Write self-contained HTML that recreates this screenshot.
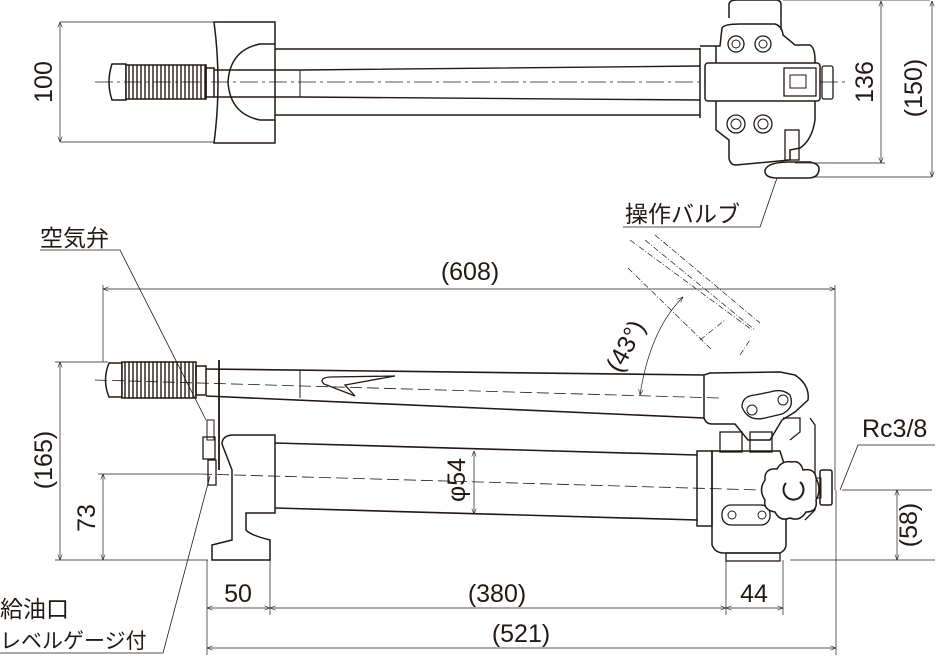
<!DOCTYPE html>
<html><head><meta charset="utf-8"><style>
html,body{margin:0;padding:0;background:#fff;}
svg{display:block;}
text{font-family:"Liberation Sans","Noto Sans CJK JP",sans-serif;fill:#231815;}
</style></head><body>
<svg width="939" height="658" viewBox="0 0 939 658" xmlns="http://www.w3.org/2000/svg">
<defs>
<marker id="a" viewBox="0 0 10 10" refX="10" refY="5" markerWidth="8" markerHeight="8" orient="auto-start-reverse"><path d="M0,1 L10,5 L0,9" fill="none" stroke="#231815" stroke-width="1"/></marker>
<pattern id="rib" width="4" height="10" patternUnits="userSpaceOnUse"><rect width="4" height="10" fill="#fff"/><line x1="1" y1="0" x2="1" y2="10" stroke="#231815" stroke-width="1.4"/></pattern>
</defs>
<g stroke="#231815" fill="none" stroke-width="1">
<!-- ===== TOP VIEW ===== -->
<!-- 100 dim -->
<line x1="60" y1="22" x2="214" y2="22" stroke-width="0.7"/>
<line x1="60" y1="142" x2="214" y2="142" stroke-width="0.7"/>
<line x1="60" y1="22" x2="60" y2="142" stroke-width="0.7" marker-start="url(#a)" marker-end="url(#a)"/>
<!-- grip -->
<path d="M112,64 Q106,82 112,100 L126,100 L126,64 Z" stroke-width="1.5"/>
<rect x="126" y="65" width="80" height="34" fill="url(#rib)" stroke-width="1.5"/>
<rect x="206" y="68" width="8" height="29" stroke-width="1.5"/>
<!-- fixed block -->
<path d="M214,22 L275,22 L275,143 L214,143 Q222,82 214,22 Z" stroke-width="1.5"/>
<path d="M275,44 L260,44 Q230,50 228,82 Q230,114 260,120 L275,120" stroke-width="1.5"/>
<!-- rails -->
<line x1="275" y1="49" x2="700" y2="49" stroke-width="1.6"/>
<line x1="275" y1="115" x2="700" y2="115" stroke-width="1.6"/>
<path d="M214,70 L300,70 L700,66 M214,97 L300,97 L700,100" stroke-width="1.4"/>
<line x1="300" y1="70" x2="300" y2="97"/>
<line x1="95" y1="82" x2="845" y2="82" stroke-dasharray="18,4,3,4" stroke-width="0.8"/>
<!-- right block -->
<path d="M729,18 L729,4 Q730,0 736,0 L776,0 Q781,0 781,5 L781,30" stroke-width="1.5"/>
<path d="M700,48 L700,118 M700,46 L720,46 L722,28 Q724,24 740,24 L775,24 Q782,26 783,35 L795,45 L810,45 Q815,48 815,60 L815,120 Q812,140 800,148 L790,150 L790,160 L736,165 Q730,165 729,158 L729,140 L716,130 L716,46" stroke-width="1.5"/>
<circle cx="736" cy="44" r="8" stroke-width="1.3"/><circle cx="736" cy="44" r="4"/>
<circle cx="763" cy="44" r="8" stroke-width="1.3"/><circle cx="763" cy="44" r="4"/>
<circle cx="736" cy="124" r="9" stroke-width="1.3"/><circle cx="736" cy="124" r="5"/>
<circle cx="763" cy="124" r="9" stroke-width="1.3"/><circle cx="763" cy="124" r="5"/>
<rect x="705" y="63" width="115" height="38" rx="3" fill="#fff" stroke-width="1.5"/>
<rect x="784" y="68" width="32" height="28" fill="#fff" stroke-width="1.3"/>
<rect x="790" y="75" width="16" height="13"/>
<rect x="822" y="66" width="11" height="33" rx="2" stroke-width="1.3"/>
<rect x="785" y="130" width="14" height="30" stroke-width="1.3"/>
<path d="M765,170 Q768,162 790,162 L810,162 Q820,164 819,170 Q818,178 808,178 L775,178 Q764,177 765,170 Z" stroke-width="1.5"/>
<!-- 136 / 150 dims -->
<line x1="783" y1="0" x2="930" y2="0" stroke-width="0.7"/>
<line x1="795" y1="163" x2="885" y2="163" stroke-width="0.7"/>
<line x1="815" y1="177" x2="932" y2="177" stroke-width="0.7"/>
<line x1="881" y1="1" x2="881" y2="163" stroke-width="0.7" marker-start="url(#a)" marker-end="url(#a)"/>
<line x1="932" y1="1" x2="932" y2="177" stroke-width="0.7" marker-start="url(#a)" marker-end="url(#a)"/>
<!-- 操作バルブ leader -->
<path d="M623,227 L760,227 L777,178" stroke-width="0.8"/>

<!-- ===== SIDE VIEW ===== -->
<!-- 608 dim -->
<line x1="103" y1="289" x2="835" y2="289" stroke-width="0.7" marker-start="url(#a)" marker-end="url(#a)"/>
<line x1="103" y1="285" x2="103" y2="362" stroke-width="0.7"/>
<line x1="835" y1="285" x2="835" y2="490" stroke-width="0.7"/>
<!-- ghost lever -->
<g stroke-dasharray="6,2,1,2" stroke-width="0.7">
<line x1="630" y1="240" x2="752" y2="330"/><line x1="645" y1="240" x2="755" y2="330"/>
<line x1="655" y1="235" x2="760" y2="323"/><line x1="628" y1="268" x2="712" y2="350"/>
<line x1="700" y1="340" x2="725" y2="320"/><line x1="740" y1="355" x2="750" y2="340"/>
</g>
<path d="M640,395 Q650,330 683,297" stroke-width="0.7" marker-start="url(#a)" marker-end="url(#a)"/>
<!-- 165 dim -->
<line x1="55" y1="362" x2="108" y2="362" stroke-width="0.7"/>
<line x1="60" y1="362" x2="60" y2="560" stroke-width="0.7" marker-start="url(#a)" marker-end="url(#a)"/>
<!-- 73 dim -->
<line x1="98" y1="474" x2="200" y2="474" stroke-width="0.7"/>
<line x1="103" y1="474" x2="103" y2="560" stroke-width="0.7" marker-start="url(#a)" marker-end="url(#a)"/>
<!-- baseline -->
<line x1="55" y1="560" x2="208" y2="560" stroke-width="0.7"/>
<line x1="790" y1="560" x2="935" y2="560" stroke-width="0.7"/>
<!-- 58 -->
<line x1="842" y1="490" x2="932" y2="490" stroke-width="0.7"/>
<line x1="897" y1="490" x2="897" y2="560" stroke-width="0.7" marker-start="url(#a)" marker-end="url(#a)"/>
<!-- grip -->
<path d="M109,363 Q102,380 109,397 L122,397 L122,363 Z" stroke-width="1.5"/>
<rect x="122" y="362" width="74" height="36" fill="url(#rib)" stroke-width="1.5"/>
<rect x="196" y="366" width="10" height="29" stroke-width="1.5"/>
<!-- lever -->
<path d="M206,369 L704,375 M206,396 L704,418" stroke-width="1.6"/>
<path d="M324,384 Q318,378 330,377 L395,376 L345,385 L355,396 Z" stroke-width="1.3"/>
<line x1="300" y1="370" x2="300" y2="398"/>
<line x1="95" y1="380" x2="720" y2="398" stroke-dasharray="12,5" stroke-width="0.8"/>
<path d="M704,375 L704,418 Q706,424 712,424 L735,424 L748,440 L770,440 L782,420 L795,412 L808,400 Q810,385 795,375 L780,372 L710,373 Z" stroke-width="1.5"/>
<path d="M742,407 Q742,396 755,395 L770,392 Q782,388 790,395 Q795,408 782,414 L765,418 Q748,422 742,407 Z" stroke-width="1.3"/>
<circle cx="752" cy="410" r="5"/><circle cx="783" cy="400" r="5"/>
<path d="M783,418 L800,418 L800,432 L790,440" stroke-width="1.3"/>
<!-- plate & valve -->
<line x1="219" y1="360" x2="219" y2="470" stroke-width="1.8"/>
<rect x="207" y="420" width="7" height="20"/>
<rect x="203" y="437" width="12" height="22" stroke-width="1.3"/>
<rect x="208" y="460" width="8" height="25" stroke-width="1.3"/>
<!-- front foot block -->
<path d="M222,444 Q222,436 232,435 L275,435 L275,513 L246,513 L246,530 Q250,535 270,540 L270,560 L212,560 L212,545 L232,540 L232,470 Z" stroke-width="1.5"/>
<!-- cylinder -->
<path d="M275,443 L697,455 M275,508 L697,520" stroke-width="1.6"/>
<line x1="200" y1="474" x2="760" y2="490" stroke-dasharray="12,5" stroke-width="0.8"/>
<line x1="474" y1="451" x2="474" y2="514" stroke-width="0.7" marker-start="url(#a)" marker-end="url(#a)"/>
<!-- pump body -->
<rect x="697" y="451" width="15" height="75" stroke-width="1.5"/>
<path d="M712,451 L712,545 Q715,553 724,553 L780,553 Q786,550 786,545 L786,470 L780,451 Z" stroke-width="1.5"/>
<rect x="726" y="553" width="54" height="8" stroke-width="1.3"/>
<rect x="720" y="432" width="22" height="20" stroke-width="1.3"/>
<rect x="750" y="432" width="22" height="20" stroke-width="1.3"/>
<line x1="712" y1="425" x2="815" y2="425" stroke-width="0"/>
<path d="M810,418 L815,425 L815,510 L805,520" stroke-width="1.3"/>
<rect x="722" y="505" width="48" height="20" rx="9" stroke-width="1.3"/>
<circle cx="732" cy="515" r="4"/><circle cx="762" cy="515" r="4"/>
<!-- star knob -->
<path d="M792,462 Q800,460 803,470 Q815,468 816,478 Q822,490 816,500 Q818,512 806,512 Q800,522 790,518 Q780,522 775,512 Q763,510 765,500 Q758,490 765,480 Q764,468 777,469 Q782,460 792,462 Z" fill="#fff" stroke-width="1.5"/>
<path d="M786,483 A10,10 0 1,0 800,482" stroke-width="2"/>
<rect x="820" y="470" width="12" height="35" rx="2" stroke-width="1.5"/>
<rect x="816" y="478" width="5" height="20"/>
<!-- leaders -->
<path d="M40,250 L120,250 L206,420" stroke-width="0.8"/>
<path d="M0,653 L163,653 L210,476" stroke-width="0.8"/>
<path d="M935,445 L858,445 L840,490" stroke-width="0.8"/>
<!-- bottom dims -->
<g stroke-width="0.7">
<line x1="207" y1="560" x2="207" y2="655"/><line x1="270" y1="560" x2="270" y2="615"/>
<line x1="726" y1="560" x2="726" y2="615"/><line x1="783" y1="560" x2="783" y2="615"/>
<line x1="836" y1="490" x2="836" y2="655"/>
<line x1="207" y1="608" x2="270" y2="608" marker-start="url(#a)" marker-end="url(#a)"/>
<line x1="270" y1="608" x2="726" y2="608" marker-start="url(#a)" marker-end="url(#a)"/>
<line x1="726" y1="608" x2="783" y2="608" marker-start="url(#a)" marker-end="url(#a)"/>
<line x1="207" y1="648" x2="836" y2="648" marker-start="url(#a)" marker-end="url(#a)"/>
</g>
</g>
<!-- text -->
<g font-size="25">
<text transform="translate(52,82) rotate(-90)" text-anchor="middle">100</text>
<text transform="translate(873,82) rotate(-90)" text-anchor="middle">136</text>
<text transform="translate(922,88) rotate(-90)" text-anchor="middle">(150)</text>
<text x="470" y="280" text-anchor="middle">(608)</text>
<text transform="translate(52,460) rotate(-90)" text-anchor="middle">(165)</text>
<text transform="translate(95,518) rotate(-90)" text-anchor="middle">73</text>
<text transform="translate(465,480) rotate(-90)" text-anchor="middle">φ54</text>
<text transform="translate(917,525) rotate(-90)" text-anchor="middle">(58)</text>
<text transform="translate(633,350) rotate(-62)" text-anchor="middle">(43°)</text>
<text x="238" y="602" text-anchor="middle">50</text>
<text x="497" y="602" text-anchor="middle">(380)</text>
<text x="754" y="602" text-anchor="middle">44</text>
<text x="521" y="642" text-anchor="middle">(521)</text>
<text x="862" y="437">Rc3/8</text>
</g>
<g font-size="23">
<text x="625" y="222">操作バルブ</text>
<text x="40" y="246">空気弁</text>
<text x="0" y="617">給油口</text>
<text x="0" y="648" font-size="21">レベルゲージ付</text>
</g>
</svg>
</body></html>
